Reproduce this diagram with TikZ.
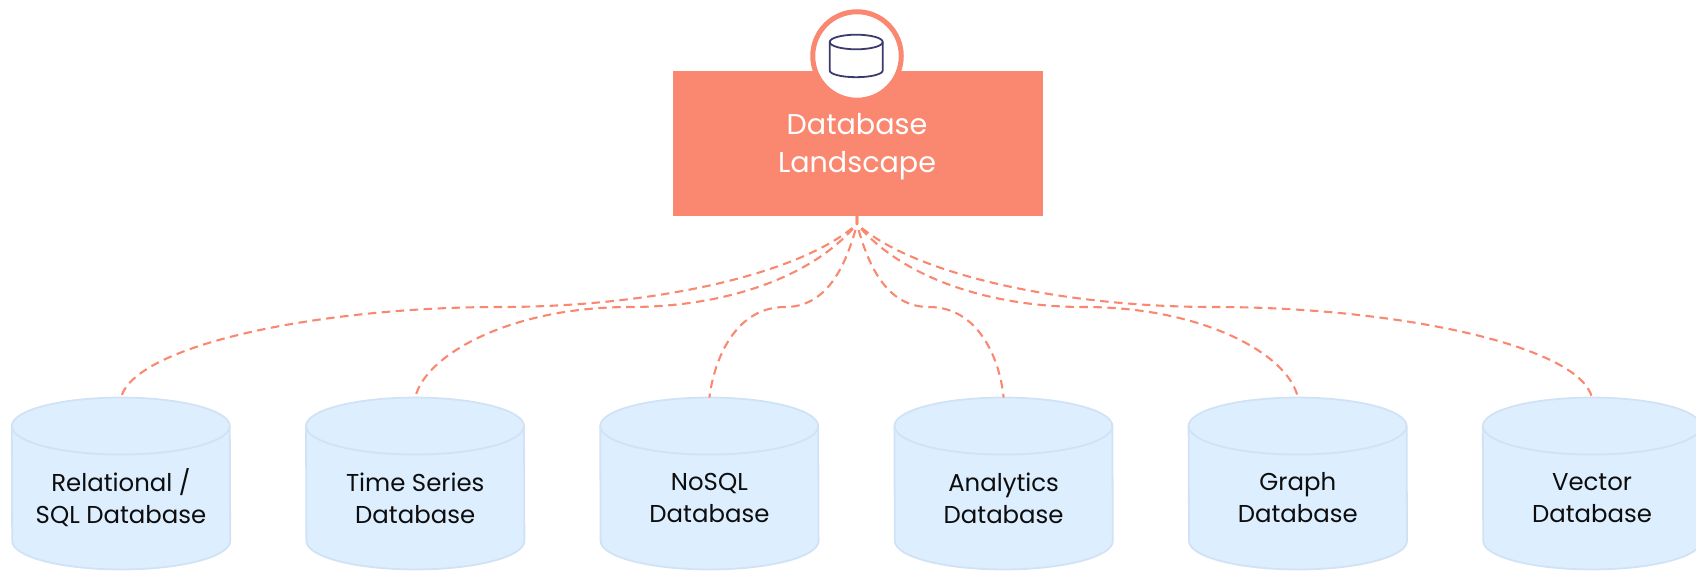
\documentclass[tikz,border=0pt]{standalone}
\usepackage{fontspec}
\setmainfont{Poppins}
\definecolor{coral}{HTML}{FA8870}
\definecolor{dbfill}{HTML}{DDEEFF}
\definecolor{dbline}{HTML}{D0E2F4}
\definecolor{navy}{HTML}{3A3A6E}
\tikzset{
  dbbody/.style={rectangle, minimum width=218pt, minimum height=171.5pt, inner sep=0pt},
  dbtext/.style={align=center, inner sep=0pt, font=\fontsize{24.4}{32}\selectfont, text=black!95, yshift=-14.5pt},
  dbline/.style={draw=dbline, line width=1.8pt},
  rootnode/.style={rectangle, fill=coral, minimum width=370pt, minimum height=145pt, inner sep=0pt},
  badge/.style={circle, draw=coral, fill=white, line width=5pt, minimum size=88.5pt, inner sep=0pt},
  titletext/.style={align=center, text=white, font=\fontsize{28.6}{38.3}\selectfont, inner sep=0pt},
  link/.style={coral, line width=2.1pt, dash pattern=on 8.5pt off 5.5pt},
  icon/.style={navy, line width=1.8pt, line join=round}
}
\newcommand\dbshape[1]{%
  \draw[dbline, fill=dbfill] ([yshift=-28.5pt]#1.north west)
    arc[start angle=180,end angle=0,x radius=109pt,y radius=28.5pt]
    -- ([yshift=28.5pt]#1.south east)
    arc[start angle=0,end angle=-180,x radius=109pt,y radius=28.5pt] -- cycle;
  \draw[dbline] ([yshift=-28.5pt]#1.north west)
    arc[start angle=180,end angle=360,x radius=109pt,y radius=28.5pt];
}
\begin{document}
\begin{tikzpicture}[x=1pt,y=-1pt]
\useasboundingbox (0,0) rectangle (1696,570);
\clip (0,0) rectangle (1696,570);
\node[rootnode] (root) at (858,143.5) {};
\node[badge] (badge) at (857,56) {};
\node[titletext] (title) at (857,146.5) {Database\\Landscape};
\draw[icon] (856.2,42) ellipse[x radius=26.5pt,y radius=7.3pt];
\draw[icon] (829.7,42) -- (829.7,70.5) arc[start angle=180,end angle=360,x radius=26.5pt,y radius=6.7pt] -- (882.7,42);
\coordinate (hub) at (857,224);
\foreach \n/\x in {db1/121,db2/415.2,db3/709.4,db4/1003.6,db5/1297.8,db6/1592}{
  \node[dbbody] (\n) at (\x,483.5) {};
  \dbshape{\n}
}
\node[dbtext] (t1) at (db1) {Relational /\\SQL Database};
\node[dbtext] (t2) at (db2) {Time Series\\Database};
\node[dbtext] (t3) at (db3) {NoSQL\\Database};
\node[dbtext] (t4) at (db4) {Analytics\\Database};
\node[dbtext] (t5) at (db5) {Graph\\Database};
\node[dbtext] (t6) at (db6) {Vector\\Database};
\draw[link] (root.south -| hub) -- (hub) .. controls (800,275) and (650,307) .. (500,307) .. controls (320,307) and (135,345) .. (db1.north);
\draw[link] (root.south -| hub) -- (hub) .. controls (810,280) and (720,307) .. (630,307) .. controls (510,307) and (425,355) .. (db2.north);
\draw[link] (root.south -| hub) -- (hub) .. controls (845,270) and (825,307) .. (785,307) .. controls (735,307) and (714,360) .. (db3.north);
\draw[link] (root.south -| hub) -- (hub) .. controls (869,270) and (889,307) .. (929,307) .. controls (979,307) and (1000,360) .. (db4.north);
\draw[link] (root.south -| hub) -- (hub) .. controls (904,280) and (994,307) .. (1084,307) .. controls (1204,307) and (1289,355) .. (db5.north);
\draw[link] (root.south -| hub) -- (hub) .. controls (914,275) and (1064,307) .. (1214,307) .. controls (1394,307) and (1579,345) .. (db6.north);
\end{tikzpicture}
\end{document}
